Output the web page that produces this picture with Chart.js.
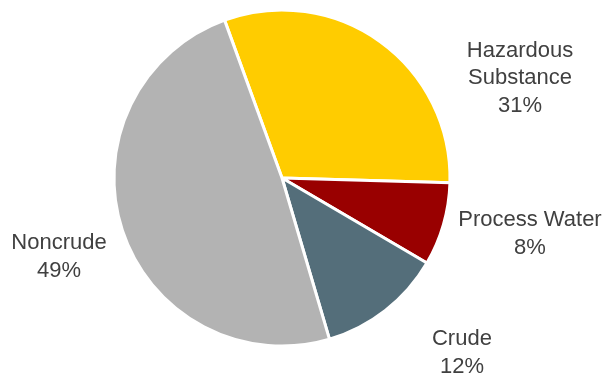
<!DOCTYPE html>
<html>
<head>
<meta charset="utf-8">
<script src="https://cdn.jsdelivr.net/npm/chart.js@4"></script>
<style>
	html, body { margin: 0; padding: 0; background: #ffffff; }
	#wrap { width: 609px; height: 377px; position: relative; }
</style>
</head>
<body>
<div id="wrap"><canvas id="pie_chart"></canvas></div>
<script>
// Données du graphique
var categories = ['Hazardous\nSubstance', 'Process Water', 'Crude', 'Noncrude'];
var shares = [31, 8, 12, 49];
var colors = ['#FFCC00', '#990000', '#546E7A', '#B3B3B3'];

// Position des étiquettes (multiples du rayon depuis le centre)
var label_pos = [
	[1.417, -0.595],
	[1.476, 0.333],
	[1.071, 1.042],
	[-1.327, 0.47]
];

// Plugin pour écrire les étiquettes autour du camembert
var pie_labels = {
	id: 'pie_labels',
	afterDatasetsDraw: function(chart) {
		var ctx = chart.ctx;
		var arcs = chart.getDatasetMeta(0).data;
		ctx.save();
		ctx.font = '22px "Liberation Sans", Arial, sans-serif';
		ctx.fillStyle = '#404040';
		ctx.textAlign = 'center';
		ctx.textBaseline = 'middle';
		arcs.forEach(function(arc, i) {
			var r = arc.outerRadius;
			var x = arc.x + label_pos[i][0] * r;
			var y = arc.y + label_pos[i][1] * r;
			var lines = categories[i].split('\n');
			lines.push(shares[i] + '%');
			var lh = 27.5;
			var top = y - (lines.length - 1) * lh / 2;
			lines.forEach(function(t, j) {
				ctx.fillText(t, x, top + j * lh);
			});
		});
		ctx.restore();
	}
};

var pie_chart = new Chart(document.getElementById('pie_chart'), {
	type: 'pie',
	data: {
		labels: categories,
		datasets: [{
			data: shares,
			backgroundColor: colors,
			borderColor: '#ffffff',
			borderWidth: 3,
			hoverOffset: 0
		}]
	},
	options: {
		responsive: true,
		maintainAspectRatio: false,
		animation: false,
		rotation: -20,
		radius: 168,
		layout: { padding: { top: 10, bottom: 31, left: 114, right: 159 } },
		events: [],
		plugins: {
			legend: { display: false },
			tooltip: { enabled: false }
		}
	},
	plugins: [pie_labels]
});
</script>
</body>
</html>
